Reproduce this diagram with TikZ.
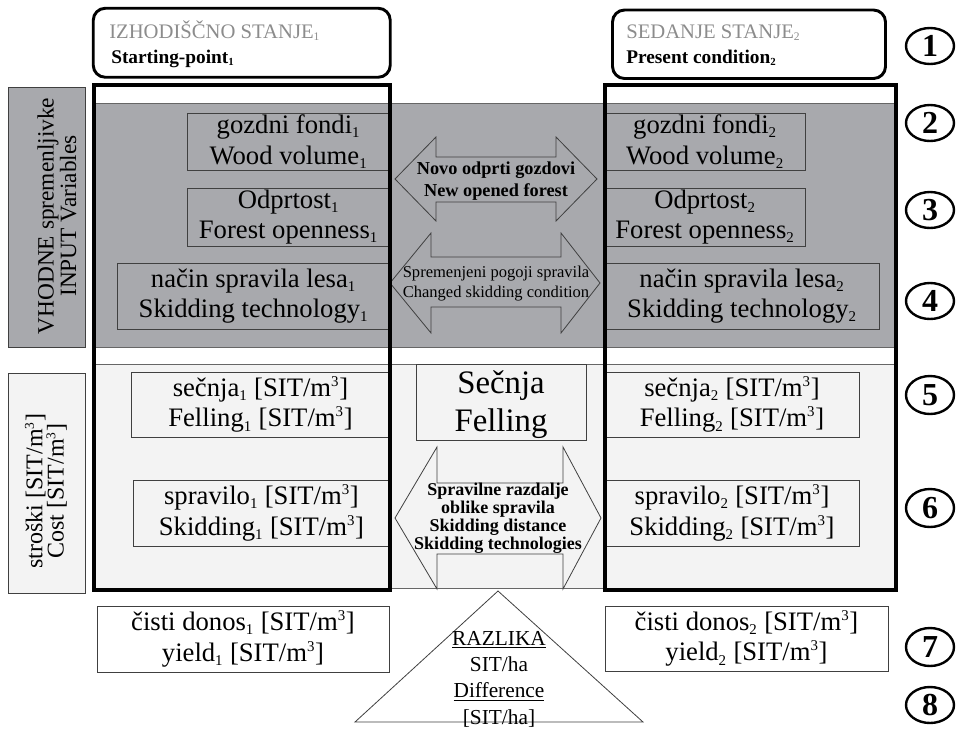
\documentclass[tikz,border=0pt]{standalone}
\usepackage{fontspec}
\usepackage{graphicx}
\setmainfont{Liberation Serif}
\usetikzlibrary{shapes.geometric}
\definecolor{band}{HTML}{A8A9AD}
\definecolor{lightbg}{HTML}{F3F3F3}
\definecolor{edge}{HTML}{404040}
\definecolor{titlegray}{HTML}{8C8C8C}
\newcommand{\subx}[1]{\textsubscript{\scalebox{0.8}{#1}}}
\newcommand{\supx}[1]{\textsuperscript{\scalebox{0.8}{#1}}}
\begin{document}
\begin{tikzpicture}[x=0.75pt,y=-0.75pt,
  wh/.style 2 args={minimum width=#1*0.75pt, minimum height=#2*0.75pt},
  ibox/.style={draw=edge, line width=0.6pt, inner sep=0pt, align=center, font=\fontsize{20}{23}\selectfont},
  thickframe/.style={draw=black, line width=3pt, inner sep=0pt},
  topbox/.style={draw=black, line width=2.2pt, rounded corners=9pt, inner sep=0pt},
  sidebox/.style={draw=edge, line width=0.6pt, inner sep=0pt},
  sidetext/.style={rotate=90, inner sep=0pt, align=center, font=\fontsize{17.5}{15}\selectfont},
  arrowshape/.style={draw=edge, line width=0.6pt},
  numcircle/.style={draw=black, ellipse, line width=1.8pt, inner sep=0pt, font=\bfseries\fontsize{24}{24}\selectfont},
  sepline/.style={draw=edge!80, line width=0.6pt}
]
\useasboundingbox (0,0) rectangle (961,729);

% backgrounds
\fill[band] (94,103) rectangle (896,347);
\draw[sepline] (94,103) -- (896,103);
\draw[sepline] (94,347) -- (896,347);
\fill[lightbg] (94,364) rectangle (896,588);
\draw[sepline] (94,364) -- (896,364);
\draw[sepline] (94,588) -- (896,588);

% top boxes
\node[topbox, wh={297}{69}] (b1) at (241.75,42.75) {};
\node[topbox, wh={273}{68.5}] (b2) at (749,44.25) {};
\node[anchor=base west, inner sep=0pt, text=titlegray, font=\fontsize{15.5}{18}\selectfont] (t1a) at (109,38) {IZHODIŠČNO STANJE\subx{1}};
\node[anchor=base west, inner sep=0pt, font=\bfseries\fontsize{14.5}{18}\selectfont] (t1b) at (111,63) {Starting-point\subx{1}};
\node[anchor=base west, inner sep=0pt, text=titlegray, font=\fontsize{15.5}{18}\selectfont] (t2a) at (626,38) {SEDANJE STANJE\subx{2}};
\node[anchor=base west, inner sep=0pt, font=\bfseries\fontsize{14.5}{18}\selectfont] (t2b) at (626,63) {Present condition\subx{2}};

% side labels
\node[sidebox, fill=band, wh={77}{260}] (l1) at (46.5,217) {};
\node[sidetext] (l1t) at (57,216) {VHODNE spremenljivke\\INPUT Variables};
\node[sidebox, fill=lightbg, wh={77}{220}] (l2) at (46.5,483) {};
\node[sidetext, font=\fontsize{18}{16}\selectfont] (l2t) at (46,491) {stroški [SIT/m\supx{3}]\\Cost [SIT/m\supx{3}]};

% left column boxes
\node[ibox, wh={203}{57}] (g1) at (288.5,141.5) {gozdni fondi\subx{1}\\Wood volume\subx{1}};
\node[ibox, wh={203}{58}] (o1) at (288.5,217) {Odprtost\subx{1}\\Forest openness\subx{1}};
\node[ibox, wh={273}{66}] (n1) at (253.5,296) {način spravila lesa\subx{1}\\Skidding technology\subx{1}};
\node[ibox, wh={259}{65}] (s1) at (260.5,404.5) {sečnja\subx{1} [SIT/m\supx{3}]\\Felling\subx{1} [SIT/m\supx{3}]};
\node[ibox, wh={257}{66}] (p1) at (261.5,513) {spravilo\subx{1} [SIT/m\supx{3}]\\Skidding\subx{1} [SIT/m\supx{3}]};
\node[ibox, wh={292}{66}] (c1) at (243,639) {čisti donos\subx{1} [SIT/m\supx{3}]\\yield\subx{1} [SIT/m\supx{3}]};

% right column boxes
\node[ibox, wh={200}{57}] (g2) at (705,141.5) {gozdni fondi\subx{2}\\Wood volume\subx{2}};
\node[ibox, wh={200}{58}] (o2) at (705,217) {Odprtost\subx{2}\\Forest openness\subx{2}};
\node[ibox, wh={274}{66}] (n2) at (742,296) {način spravila lesa\subx{2}\\Skidding technology\subx{2}};
\node[ibox, wh={254}{65}] (s2) at (732,404.5) {sečnja\subx{2} [SIT/m\supx{3}]\\Felling\subx{2} [SIT/m\supx{3}]};
\node[ibox, wh={254}{66}] (p2) at (732,513) {spravilo\subx{2} [SIT/m\supx{3}]\\Skidding\subx{2} [SIT/m\supx{3}]};
\node[ibox, wh={283}{65}] (c2) at (746.5,638.5) {čisti donos\subx{2} [SIT/m\supx{3}]\\yield\subx{2} [SIT/m\supx{3}]};

% middle
\node[ibox, wh={170}{76}] (fel) at (501,402) {};
\node[align=center, inner sep=0pt, font=\fontsize{24.6}{28.5}\selectfont] (felt) at (501,405) {Sečnja\\Felling};

\draw[arrowshape] (395,179) -- (436,137) -- (436,157) -- (556,157) -- (556,137) -- (597,179) -- (556,221) -- (556,202) -- (436,202) -- (436,221) -- cycle;
\node[align=center, inner sep=0pt, font=\bfseries\fontsize{13.7}{16.5}\selectfont] (a1) at (496,181) {Novo odprti gozdovi\\New opened forest};

\draw[arrowshape] (390,283) -- (431,233) -- (431,257) -- (561,257) -- (561,233) -- (600,283) -- (561,333) -- (561,307) -- (431,307) -- (431,333) -- cycle;
\node[align=center, inner sep=0pt, font=\fontsize{12.4}{15}\selectfont] (a2) at (496,284) {Spremenjeni pogoji spravila\\Changed skidding condition};

\draw[arrowshape, fill=lightbg] (395,518) -- (437,447) -- (437,483) -- (563,483) -- (563,447) -- (601,518) -- (563,589) -- (563,554) -- (437,554) -- (437,589) -- cycle;
\node[align=center, inner sep=0pt, font=\bfseries\fontsize{13.5}{13.5}\selectfont] (a3) at (498,518) {Spravilne razdalje\\oblike spravila\\Skidding distance\\Skidding technologies};

% triangle
\draw[draw=edge, line width=0.6pt, fill=white] (355,722) -- (498,591) -- (643,722) -- cycle;
\node[align=center, inner sep=0pt, font=\fontsize{16}{19.7}\selectfont] (tri) at (499,679) {\underline{RAZLIKA}\\SIT/ha\\\underline{Difference}\\{[SIT/ha]}};

% thick frames
\node[thickframe, wh={296}{505}] (f1) at (242,337.5) {};
\node[thickframe, wh={291}{505}] (f2) at (750.5,337.5) {};

% numbered circles
\node[numcircle, wh={48}{36}] (n1c) at (930,46) {1};
\node[numcircle, wh={48}{36}] (n2c) at (930,123) {2};
\node[numcircle, wh={48}{36}] (n3c) at (930,210) {3};
\node[numcircle, wh={48}{36}] (n4c) at (930,301) {4};
\node[numcircle, wh={48}{38}] (n5c) at (930,395) {5};
\node[numcircle, wh={48}{38}] (n6c) at (930,508) {6};
\node[numcircle, wh={48}{38}] (n7c) at (930,647) {7};
\node[numcircle, wh={48}{36}] (n8c) at (930,705) {8};
\end{tikzpicture}
\end{document}
